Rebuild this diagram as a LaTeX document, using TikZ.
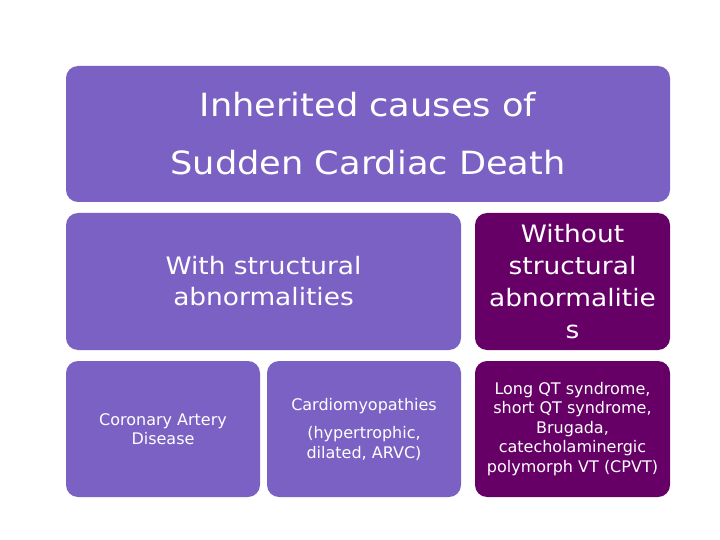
\documentclass[tikz,border=0pt]{standalone}
\usepackage{fontspec}
\setmainfont{DejaVu Sans}
\newfontfamily\widefont{DejaVu Sans}[FakeStretch=1.1]
\usepackage{xcolor}
\usepackage{tikz}
\usetikzlibrary{positioning}

\definecolor{lilac}{HTML}{7B61C4}
\definecolor{plum}{HTML}{660066}

\begin{document}
\begin{tikzpicture}[x=1pt, y=-1pt,
          every node/.style={align=center, text=white},
          box/.style={fill=lilac, rounded corners=12pt, inner sep=0pt},
          darkbox/.style={box, fill=plum},
          small/.style={font=\fontsize{16}{19.5}\selectfont}
        ]
          \useasboundingbox (0,0) rectangle (720,540);

          % Title on top
          \node[box, minimum width=604pt, minimum height=136pt,
                font=\widefont\fontsize{32}{58}\selectfont] (title) at (368,134)
                {Inherited causes of\\Sudden Cardiac Death};

          % Second row
          \node[box, minimum width=395pt, minimum height=137pt,
                font=\widefont\fontsize{24}{31}\selectfont] (with) at (263.5,281.5)
                {With structural\\abnormalities};
          \node[darkbox, minimum width=195pt, minimum height=137pt,
                font=\widefont\fontsize{24}{32}\selectfont] (without) at (572.5,281.5)
                {Without\\structural\\abnormalitie\\s};

          % Bottom row
          \node[box, small, minimum width=194pt, minimum height=136pt] (cad) at (163,429)
                {Coronary Artery\\Disease};
          \node[box, small, minimum width=194pt, minimum height=136pt] (cardio) at (364,429)
                {Cardiomyopathies\\[9pt](hypertrophic,\\dilated, ARVC)};
          \node[darkbox, small, minimum width=195pt, minimum height=136pt] (lqt) at (572.5,429)
                {Long QT syndrome,\\short QT syndrome,\\Brugada,\\catecholaminergic\\polymorph VT (CPVT)};
        \end{tikzpicture}
\end{document}
